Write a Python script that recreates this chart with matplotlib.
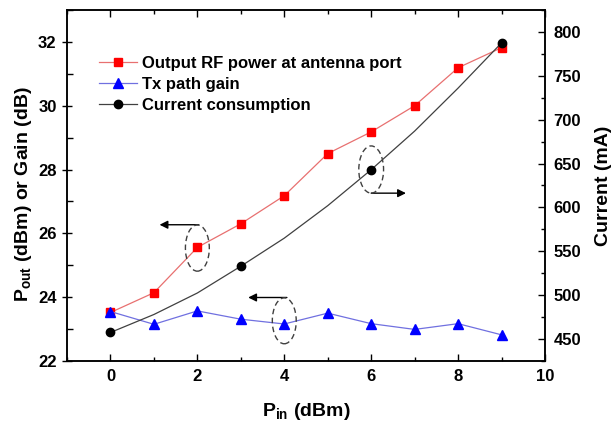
import matplotlib
matplotlib.use("Agg")
import matplotlib.pyplot as plt
from matplotlib.patches import Ellipse
from matplotlib.ticker import MultipleLocator

plt.rcParams['font.family'] = ['Liberation Sans', 'DejaVu Sans']
plt.rcParams['font.weight'] = 'bold'
plt.rcParams['mathtext.fontset'] = 'custom'
plt.rcParams['mathtext.rm'] = 'Liberation Sans:bold'
plt.rcParams['mathtext.bf'] = 'Liberation Sans:bold'
plt.rcParams['mathtext.it'] = 'Liberation Sans:bold'

# Data
pin = [0, 1, 2, 3, 4, 5, 6, 7, 8, 9]
pout = [23.52, 24.14, 25.56, 26.30, 27.18, 28.50, 29.18, 30.00, 31.19, 31.82]
gain = [23.55, 23.15, 23.57, 23.31, 23.16, 23.50, 23.17, 22.99, 23.17, 22.82]
current_pin = [0, 3, 6, 9]
current = [457.5, 533, 643, 787.5]
# smooth current curve at each integer Pin
curve_pin = [0, 1, 2, 3, 4, 5, 6, 7, 8, 9]
curve_current = [457.5, 478, 502.5, 533, 565, 602, 643, 687, 736, 787.5]

legend_labels = ['Output RF power at antenna port', 'Tx path gain', 'Current consumption']

fig = plt.figure(figsize=(6.15, 4.25), dpi=100)
ax1 = fig.add_axes([67/615, 1-361/425, (545-67)/615, (361-10)/425])
ax2 = ax1.twinx()

l1, = ax1.plot(pin, pout, color='#e87070', lw=0.9, marker='s', ms=5.2,
               mfc='#ff0000', mec='#ff0000')
l2, = ax1.plot(pin, gain, color='#7070e0', lw=0.9, marker='^', ms=6.5,
               mfc='#0000ff', mec='#0000ff')
ax2.plot(curve_pin, curve_current, color='#404040', lw=0.9)
ax2.plot(current_pin, current, ls='none', marker='o', ms=6, color='black')
l3, = ax1.plot([], [], color='#404040', lw=0.9, marker='o', ms=6, mfc='black', mec='black')

ax1.set_xlim(-1, 10)
ax1.set_ylim(22, 33)
ax2.set_ylim(425, 825)

ax1.xaxis.set_major_locator(MultipleLocator(2))
ax1.xaxis.set_minor_locator(MultipleLocator(1))
ax1.yaxis.set_major_locator(MultipleLocator(2))
ax1.yaxis.set_minor_locator(MultipleLocator(1))
ax2.yaxis.set_major_locator(MultipleLocator(50))
ax2.yaxis.set_minor_locator(MultipleLocator(25))

ax1.tick_params(axis='x', which='both', direction='in', top=True, labelsize=12, width=1, pad=6)
ax1.tick_params(axis='x', which='major', length=5)
ax1.tick_params(axis='x', which='minor', length=3)
ax1.tick_params(axis='y', which='major', direction='inout', length=7, width=1, labelsize=12, right=False, pad=4)
ax1.tick_params(axis='y', which='minor', direction='in', length=4, width=1, right=False)
ax2.tick_params(axis='y', which='major', direction='in', length=5, width=1, labelsize=12, pad=6)
ax2.tick_params(axis='y', which='minor', direction='in', length=3, width=1)

for ax in (ax1, ax2):
    for s in ax.spines.values():
        s.set_linewidth(1.1)

ax1.set_xlabel(r'$\mathbf{P_{in}}$ (dBm)', fontsize=14, fontweight='bold', labelpad=12)
ax1.set_ylabel(r'$\mathbf{P_{out}}$ (dBm) or Gain (dB)', fontsize=14, fontweight='bold')
ax1.yaxis.set_label_coords(-0.07, 0.476)
ax2.set_ylabel('Current (mA)', fontsize=14, fontweight='bold', labelpad=10)

leg = ax1.legend([l1, l2, l3], legend_labels, loc='upper left',
                 bbox_to_anchor=(0.052, 0.889), frameon=False, fontsize=12,
                 handlelength=2.3, handletextpad=0.3, labelspacing=0.38, borderaxespad=0)
for t in leg.get_texts():
    t.set_fontweight('bold')

# dashed ellipses and arrows
ells = [((2.0, 25.54), 0.55, 1.45), ((6.0, 28.0), 0.57, 1.48), ((4.0, 23.26), 0.55, 1.44)]
for c, w, h in ells:
    ax1.add_patch(Ellipse(c, w, h, fill=False, ls=(0, (4, 2.5)), lw=1, ec='#404040', zorder=5))

arrows = [((2.03, 26.27), (1.13, 26.27)), ((6.0, 27.26), (6.8, 27.26)), ((4.06, 23.99), (3.17, 23.99))]
for start, end in arrows:
    ax1.annotate('', xy=end, xytext=start,
                 arrowprops=dict(arrowstyle='-|>', color='black', lw=1, mutation_scale=12,
                                 shrinkA=0, shrinkB=0))

fig.savefig('out.png', dpi=100)
